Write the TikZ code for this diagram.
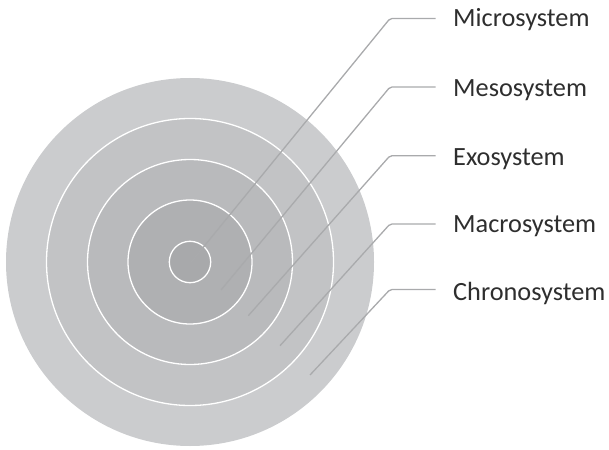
\documentclass[tikz,border=0pt]{standalone}
\usepackage{fontspec}
\setmainfont{Carlito}
\definecolor{ringA}{HTML}{CBCCCE}
\definecolor{ringB}{HTML}{C2C3C5}
\definecolor{ringC}{HTML}{B9BABC}
\definecolor{ringD}{HTML}{AFB0B2}
\definecolor{ringE}{HTML}{A8A9AB}
\definecolor{leader}{HTML}{A9AAAC}
\definecolor{labtext}{HTML}{2E2E2E}
\begin{document}
\begin{tikzpicture}[x=1pt,y=-1pt,
  ring/.style={draw=white,line width=1.3pt},
  leaderline/.style={draw=leader,line width=1.3pt,rounded corners=2pt},
  lab/.style={anchor=base west,inner sep=0pt,font=\fontsize{26.3}{30}\selectfont,text=labtext}]
\useasboundingbox (0,0) rectangle (609,449);
\coordinate (O) at (190,262);
\fill[ringA] (O) circle[radius=184];
\filldraw[ringB,ring] (O) circle[radius=143.5];
\filldraw[ringC,ring] (O) circle[radius=102.5];
\filldraw[ringD,ring] (O) circle[radius=62];
\filldraw[ringE,ring] (O) circle[radius=20.7];
% labels
\node[lab] (micro) at (453,26.7) {Microsystem};
\node[lab] (meso) at (453,96.7) {Mesosystem};
\node[lab] (exo) at (453,165.7) {Exosystem};
\node[lab] (macro) at (453,232.5) {Macrosystem};
\node[lab] (chrono) at (453,300) {Chronosystem};
% leader points
\coordinate (p1) at (190.7,262.7);
\coordinate (c1) at (390,18.5);
\coordinate (e1) at (435.7,18.5);
\coordinate (p2) at (221,290);
\coordinate (c2) at (390,87);
\coordinate (e2) at (435.7,87);
\coordinate (p3) at (248.3,315.7);
\coordinate (c3) at (390,155.7);
\coordinate (e3) at (435.7,155.7);
\coordinate (p4) at (280,345.7);
\coordinate (c4) at (390,224);
\coordinate (e4) at (435.7,224);
\coordinate (p5) at (310,375);
\coordinate (c5) at (390,289.5);
\coordinate (e5) at (435.7,289.5);
\draw[leaderline] (p1) -- (c1) -- (e1);
\draw[leaderline] (p2) -- (c2) -- (e2);
\draw[leaderline] (p3) -- (c3) -- (e3);
\draw[leaderline] (p4) -- (c4) -- (e4);
\draw[leaderline] (p5) -- (c5) -- (e5);
\end{tikzpicture}
\end{document}
